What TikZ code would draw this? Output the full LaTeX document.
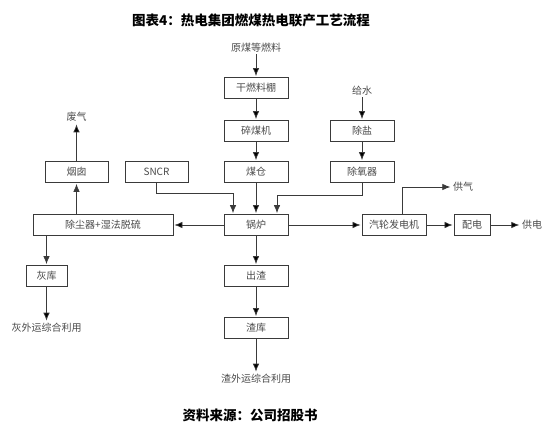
\documentclass[tikz,border=0pt]{standalone}
\usepackage{fontspec}
\setmainfont{Noto Sans CJK SC}
\usepackage{tikz}
\usetikzlibrary{positioning, arrows.meta}
\definecolor{linegray}{HTML}{3A3A3A}
\definecolor{textgray}{HTML}{4A4A4A}

\tikzset{
  proc/.style={draw=linegray, line width=0.8pt, minimum width=64pt, minimum height=21pt,
    inner sep=1pt, text=textgray, font=\fontsize{10}{10}\selectfont},
  outlabel/.style={inner sep=1.5pt, text=textgray, font=\fontsize{10}{10}\selectfont},
  flow/.style={->, draw=linegray, line width=0.7pt},
  heading/.style={font=\bfseries\fontsize{13.5}{13.5}\selectfont},
}

\begin{document}
\begin{tikzpicture}[x=1pt, y=-1pt, >={Latex[length=8pt,width=6.5pt]}, shorten >=1pt,
    node distance=40pt, on grid]
    \useasboundingbox (0,0) rectangle (553,435);

    % title and source
    \node[heading] (title) at (251,20) {图表4：热电集团燃煤热电联产工艺流程};
    \node[heading] (source) at (250,415) {资料来源：公司招股书};

    % coal line
    \node[proc] (gan) at (256,88) {干燃料棚};
    \node[outlabel] (raw) [above=40pt of gan] {原煤等燃料};
    \node[proc] (sui) [below=43pt of gan] {碎煤机};
    \node[proc] (cang) [below=41pt of sui] {煤仓};
    \node[proc] (guolu) [below=53pt of cang] {锅炉};
    \node[proc] (chuzha) [below=51pt of guolu] {出渣};
    \node[proc] (zhaku) [below=52pt of chuzha] {渣库};
    \node[outlabel] (zhaout) [below=51pt of zhaku] {渣外运综合利用};

    % water line
    \node[proc] (chuyang) [right=106pt of cang] {除氧器};
    \node[proc] (chuyan) [above=41pt of chuyang] {除盐};
    \node[outlabel] (water) [above=40pt of chuyan] {给水};
    \node[proc, minimum width=63pt] (sncr) [left=99.5pt of cang] {SNCR};

    % flue gas and ash
    \node[proc, minimum width=140pt] (chuchen) [left=153pt of guolu] {除尘器+湿法脱硫};
    \node[proc, minimum width=63pt] (yancong) [left=179.5pt of cang] {烟囱};
    \node[outlabel] (feiqi) [above=55pt of yancong] {废气};
    \node[proc, minimum width=41pt] (huiku) at (46.5,276) {灰库};
    \node[outlabel] (huiout) [below=52pt of huiku] {灰外运综合利用};

    % power
    \node[proc] (qilun) [right=138pt of guolu] {汽轮发电机};
    \node[proc, minimum width=36pt] (peidian) [right=78pt of qilun] {配电};
    \node[outlabel] (gongdian) [right=60pt of peidian] {供电};
    \node[outlabel] (gongqi) at (463,187) {供气};

    \path[flow]
      (raw) edge (gan)
      (gan) edge (sui)
      (sui) edge (cang)
      (cang) edge (guolu)
      (guolu) edge (chuzha)
      (chuzha) edge (zhaku)
      (zhaku) edge (zhaout)
      (water) edge (chuyan)
      (chuyan) edge (chuyang)
      (guolu) edge (chuchen)
      (guolu) edge (qilun)
      (qilun) edge (peidian)
      (peidian) edge (gongdian)
      (yancong) edge (feiqi)
      (huiku) edge (huiout);
    \draw[flow] (chuyang.south) -- ++(0,12) -| ([xshift=21pt]guolu.north);
    \draw[flow] (sncr.south) -- ++(0,10) -| ([xshift=-23pt]guolu.north);
    \draw[flow] (chuchen.north -| yancong.south) -- (yancong.south);
    \draw[flow] (chuchen.south -| huiku.north) -- (huiku.north);
    \draw[flow] ([xshift=8pt]qilun.north) |- (gongqi.west);
  \end{tikzpicture}
\end{document}
